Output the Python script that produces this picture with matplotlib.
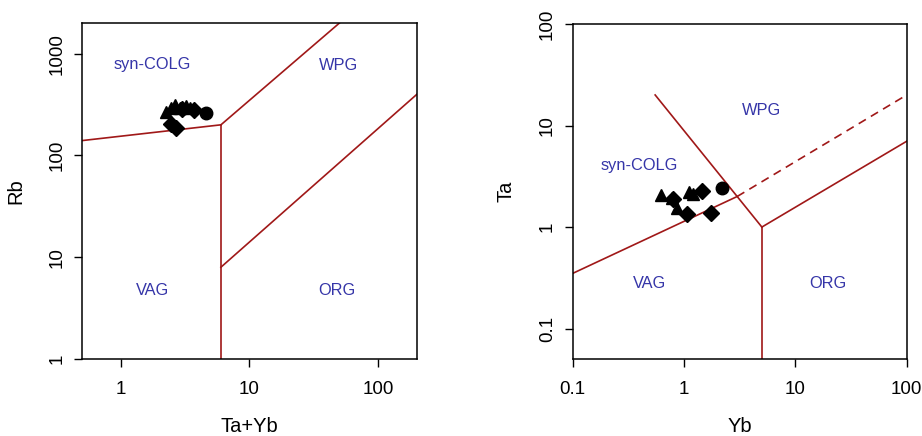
import matplotlib

matplotlib.use("Agg")  # No display
import matplotlib.pyplot as plt  # Plotting

plt.rcParams["font.family"] = ["Liberation Sans", "DejaVu Sans"]  # Arial-like text

# Rb vs Ta+Yb samples
RB_TRI_X = [2.25, 2.45, 2.65, 2.9, 3.2, 3.45]
RB_TRI_Y = [265, 295, 310, 290, 305, 295]
RB_DIA_X = [2.45, 2.7, 3.0, 3.7]
RB_DIA_Y = [205, 185, 285, 280]
RB_CIR_X = [4.6]
RB_CIR_Y = [262]

# Ta vs Yb samples
TA_TRI_X = [0.62, 0.78, 0.87, 1.1, 1.2]
TA_TRI_Y = [2.05, 1.95, 1.55, 2.2, 2.1]
TA_DIA_X = [0.8, 1.07, 1.45, 1.75]
TA_DIA_Y = [1.9, 1.35, 2.25, 1.37]
TA_CIR_X = [2.2]
TA_CIR_Y = [2.45]

# Field boundaries (Pearce et al. 1984)
RB_BOUNDS = [
    ([0.5, 6], [140, 200]),
    ([6, 6], [1, 200]),
    ([6, 50], [200, 2000]),
    ([6, 200], [8, 400]),
]
TA_BOUNDS = [
    ([0.55, 3, 5], [20, 2, 1]),
    ([0.1, 3], [0.35, 2]),
    ([5, 5], [0.05, 1]),
    ([5, 100], [1, 7]),
]
TA_DASHED = ([3, 100], [2, 20])

RB_FIELDS = [("syn-COLG", 1.75, 780), ("WPG", 49, 770), ("VAG", 1.77, 4.7), ("ORG", 48, 4.7)]
TA_FIELDS = [("WPG", 5.0, 14), ("syn-COLG", 0.40, 4.0), ("VAG", 0.49, 0.28), ("ORG", 19.7, 0.28)]

LINE_COLOR = "#a01818"  # Boundary colour
TEXT_COLOR = "#3535a8"  # Field label colour


def style_axes(ax, xticks, yticks, xlabel, ylabel):
    ax.set_xscale("log")  # Log x
    ax.set_yscale("log")  # Log y
    ax.set_xticks(xticks, [f"{t:g}" for t in xticks])  # Major x ticks
    ax.set_yticks(yticks, [f"{t:g}" for t in yticks])  # Major y ticks
    ax.minorticks_off()  # No minor ticks
    ax.tick_params(direction="out", length=6, width=1, labelsize=13.5)  # R-like ticks
    ax.tick_params(axis="x", pad=10)  # Label gap
    ax.tick_params(axis="y", pad=6)  # Label gap
    for lab in ax.get_yticklabels():
        lab.set_rotation(90)  # Vertical y labels
        lab.set_va("center")
    for sp in ax.spines.values():
        sp.set_linewidth(1.1)  # Frame
    ax.set_xlabel(xlabel, fontsize=14.5)
    ax.set_ylabel(ylabel, fontsize=14.5)
    ax.xaxis.set_label_coords(0.5, -0.172)  # Place x label
    ax.yaxis.set_label_coords(-0.17, 0.5)  # Place y label


def draw_points(ax, tri, dia, cir):
    ax.plot(*tri, "^", color="black", markersize=9, linestyle="none")  # Triangles
    ax.plot(*dia, "D", color="black", markersize=8, linestyle="none")  # Diamonds
    ax.plot(*cir, "o", color="black", markersize=9, linestyle="none")  # Circles


def main() -> None:
    fig = plt.figure(figsize=(9.22, 4.36), dpi=100)  # 922x436 px
    ax1 = fig.add_axes([0.0889, 0.1762, 0.3634, 0.7711])  # Left panel
    ax2 = fig.add_axes([0.6212, 0.1762, 0.3622, 0.7688])  # Right panel

    for xs, ys in RB_BOUNDS:
        ax1.plot(xs, ys, color=LINE_COLOR, lw=1.2)  # Boundaries left
    for name, x, y in RB_FIELDS:
        ax1.text(x, y, name, color=TEXT_COLOR, fontsize=11.8, ha="center", va="center")
    draw_points(ax1, (RB_TRI_X, RB_TRI_Y), (RB_DIA_X, RB_DIA_Y), (RB_CIR_X, RB_CIR_Y))
    ax1.set_xlim(0.5, 200)
    ax1.set_ylim(1, 2000)
    style_axes(ax1, [1, 10, 100], [1, 10, 100, 1000], "Ta+Yb", "Rb")

    for xs, ys in TA_BOUNDS:
        ax2.plot(xs, ys, color=LINE_COLOR, lw=1.2)  # Boundaries right
    ax2.plot(*TA_DASHED, color=LINE_COLOR, lw=1.2, linestyle=(0, (5, 3.5)))  # Dashed extension
    for name, x, y in TA_FIELDS:
        ax2.text(x, y, name, color=TEXT_COLOR, fontsize=11.8, ha="center", va="center")
    draw_points(ax2, (TA_TRI_X, TA_TRI_Y), (TA_DIA_X, TA_DIA_Y), (TA_CIR_X, TA_CIR_Y))
    ax2.set_xlim(0.1, 100)
    ax2.set_ylim(0.05, 100)
    style_axes(ax2, [0.1, 1, 10, 100], [0.1, 1, 10, 100], "Yb", "Ta")

    fig.savefig("out.png", dpi=100)  # Save PNG
    plt.close(fig)


if __name__ == "__main__":
    main()  # Entry point
